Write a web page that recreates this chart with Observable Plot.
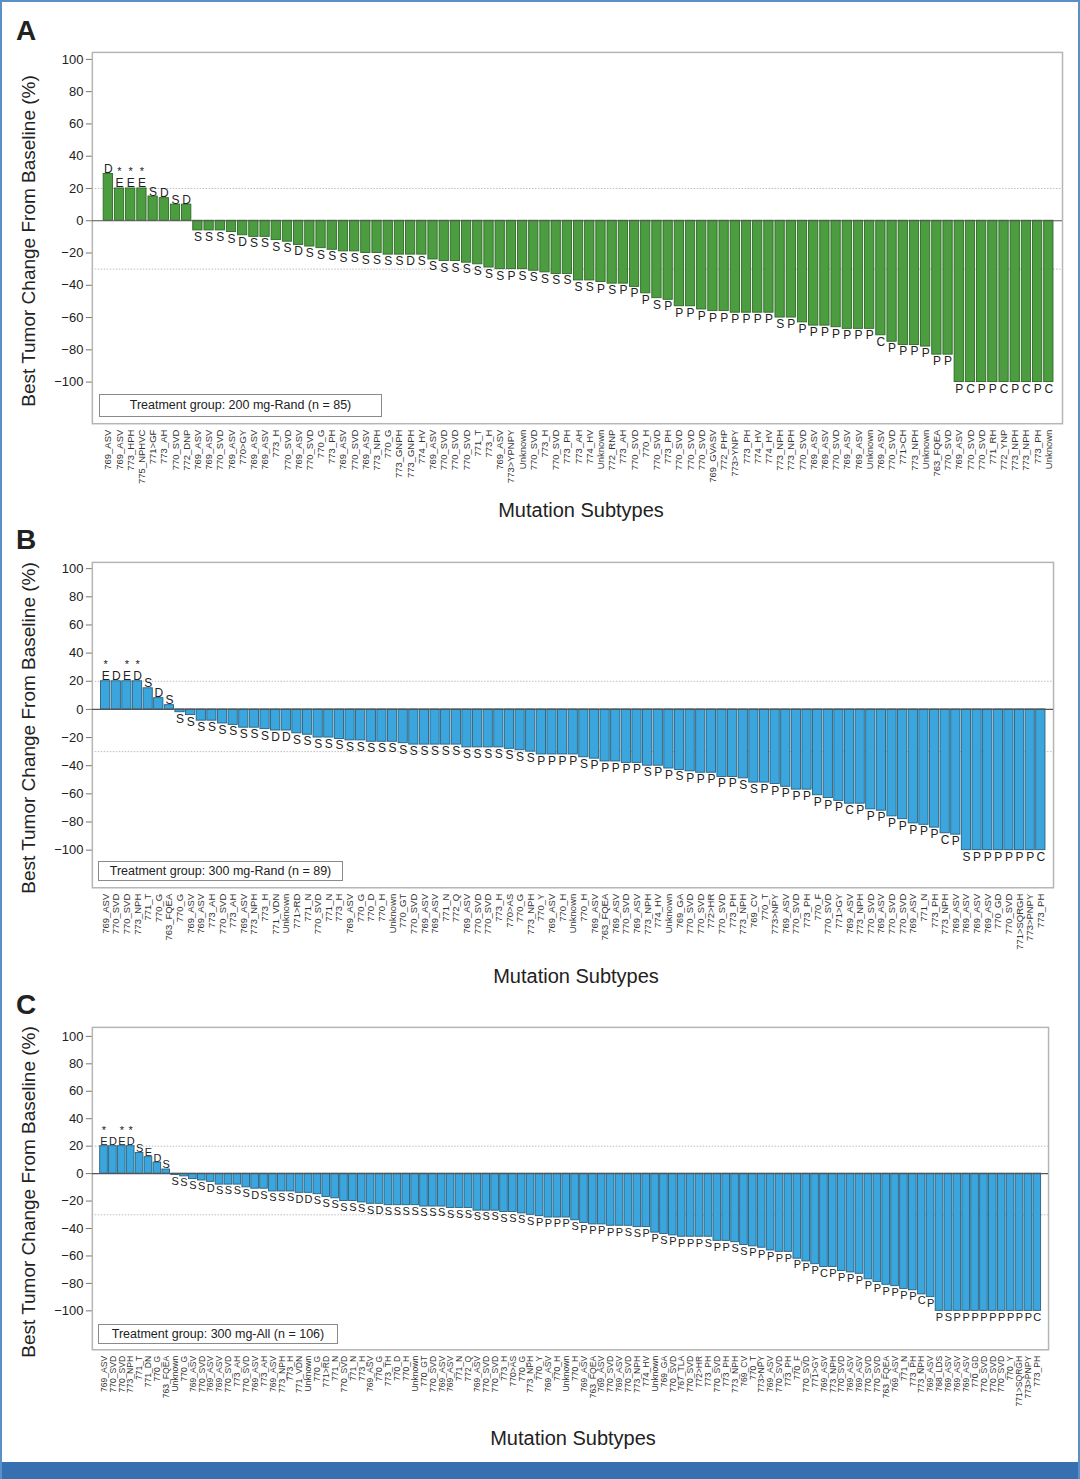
<!DOCTYPE html>
<html><head><meta charset="utf-8">
<script src="https://cdn.jsdelivr.net/npm/d3@7"></script>
<script src="https://cdn.jsdelivr.net/npm/@observablehq/plot@0.6"></script>
<style>
body{margin:0;background:#fff;}
#page{position:relative;width:1080px;height:1479px;overflow:hidden;font-family:"Liberation Sans",Arial,sans-serif;color:#222;box-sizing:border-box;border-top:2px solid #5b8fc7;border-left:2px solid #5b8fc7;border-right:2px solid #5b8fc7;}
.panel{position:absolute;left:-2px;}
.plet{position:absolute;font-weight:bold;font-size:28px;line-height:28px;}
.ytitle{position:absolute;width:420px;height:24px;line-height:24px;text-align:center;font-size:19px;transform:rotate(-90deg);white-space:nowrap;}
.xtitle{position:absolute;width:300px;height:24px;line-height:24px;text-align:center;font-size:20px;white-space:nowrap;}
.legbox{position:absolute;border:1px solid #8a8a8a;background:#fff;box-sizing:border-box;text-align:center;font-size:12.5px;white-space:nowrap;}
#bottomband{position:absolute;left:0;right:0;bottom:0;height:17px;background:#3670b0;}
</style>
</head><body><div id="page"></div>
<script>
// ---------------- Panel A: 200 mg-Rand (n = 85) ----------------
const labelsA = ["769_ASV","769_ASV","773_HPH","775_NPHVC","771>GF","773_AH","770_SVD","772_DNP","769_ASV","769_ASV","770_SVD","769_ASV","770>GY","769_ASV","769_ASV","773_H","770_SVD","769_ASV","770_SVD","770_G","773_PH","769_ASV","770_SVD","769_ASV","773_NPH","770_G","773_GNPH","773_GNPH","774_HV",
"769_ASV","770_SVD","770_SVD","770_SVD","771_T","773_H","769_ASV","773>YPNPY","Unknown","770_SVD","773_H","770_SVD","773_PH","773_AH","774_HV","Unknown","772_RNP","773_AH","770_SVD","770_H","770_SVD","773_PH","770_SVD","770_SVD","770_SVD","769_GVASV","772_PHP","773>YNPY",
"773_PH","774_HV","774_HV","773_NPH","773_NPH","770_SVD","769_ASV","769_ASV","770_SVD","769_ASV","769_ASV","Unknown","769_ASV","770_SVD","771>CH","773_NPH","Unknown","763_FQEA","770_SVD","769_ASV","770_SVD","770_SVD","771_RH","772_YNP","773_NPH","773_NPH","773_PH","Unknown"];
const valuesA = [29,20,20,20,15,14,10,10,-6,-6,-6,-7,-9,-10,-10,-12,-13,-15,-16,-17,-18,-19,-19,-20,-20,-21,-21,-21,-21,
-24,-25,-25,-26,-27,-29,-30,-30,-30,-31,-32,-33,-33,-37,-37,-38,-39,-39,-41,-45,-48,-49,-53,-53,-55,-56,-56,-57,
-57,-57,-57,-60,-60,-63,-65,-65,-66,-67,-67,-67,-71,-75,-77,-77,-78,-83,-83,-100,-100,-100,-100,-100,-100,-100,-100,-100];
const lettersA = ["D","E","E","E","S","D","S","D","S","S","S","S","D","S","S","S","S","D","S","S","S","S","S","S","S","S","S","D","S",
"S","S","S","S","S","S","S","P","S","S","S","S","S","S","S","P","S","P","P","P","S","P","P","P","P","P","P","P",
"P","P","P","S","P","P","P","P","P","P","P","P","C","P","P","P","P","P","P","P","C","P","P","C","P","C","P","C"];
const starsA = [2,3,4];

// ---------------- Panel B: 300 mg-Rand (n = 89) ----------------
const labelsB = ["769_ASV","770_SVD","770_SVD","773_NPH","771_T","770_G","763_FQEA","770_G","769_ASV","769_ASV","773_AH","770_SVD","773_AH","769_ASV","773_NPH","773_H","771_VDN","Unknown","771>RD","771_N","770_SVD","771_N","773_H","769_ASV","770_G","770_D","770_H","Unknown","770_GT","770_SVD",
"769_ASV","769_ASV","771_N","772_Q","769_ASV","770_SVD","770_SVD","773_H","770>AS","770_G","773_NPH","770_Y","769_ASV","770_H","Unknown","770_H","769_ASV","763_FQEA","769_ASV","770_SVD","769_ASV","773_NPH","774_HV","Unknown","769_GA","770_SVD","770_SVD","772>HR","770_SVD","773_PH","773_NPH",
"769_CV","770_T","773>NPY","769_ASV","770_SVD","773_PH","770_F","770_SVD","771>GY","769_ASV","773_NPH","770_SVD","769_ASV","770_SVD","770_SVD","769_ASV","771_N","773_PH","773_NPH","769_ASV","769_ASV","769_ASV","769_ASV","770_GD","770_SVD","771>SQRGH","773>PNPY","773_PH"];
const valuesB = [20,20,20,20,15,8,3,-2,-4,-8,-8,-10,-11,-13,-13,-14,-15,-15,-17,-18,-20,-20,-21,-22,-22,-23,-23,-23,-24,-25,
-25,-25,-25,-25,-27,-27,-27,-27,-28,-29,-30,-32,-32,-32,-32,-34,-35,-37,-37,-38,-38,-40,-40,-42,-43,-44,-45,-45,-48,-48,-49,
-52,-52,-53,-55,-57,-57,-61,-63,-65,-67,-67,-71,-72,-76,-78,-81,-82,-84,-88,-89,-100,-100,-100,-100,-100,-100,-100,-100];
const lettersB = ["E","D","E","D","S","D","S","S","S","S","S","S","S","S","S","S","D","D","S","S","S","S","S","S","S","S","S","S","S","S",
"S","S","S","S","S","S","S","S","S","S","S","P","P","P","P","S","P","P","P","P","P","S","P","P","S","P","P","P","P","P","S",
"S","P","P","P","P","P","P","P","P","C","P","P","P","P","P","P","P","P","C","P","S","P","P","P","P","P","P","C"];
const starsB = [1,3,4];

// ---------------- Panel C: 300 mg-All (n = 106) ----------------
const labelsC = ["769_ASV","770_SVD","770_SVD","773_NPH","771_T","771_DN","770_G","763_FQEA","Unknown","770_G","769_ASV","770_SVD","769_ASV","769_ASV","770_SVD","773_AH","770_SVD","769_ASV","773_AH","769_ASV","773_NPH","773_H","771_VDN","Unknown","770_G","771>RD","771_N","770_SVD","771_N","773_H","769_ASV","770_G","773_TH","770_D","770_H","Unknown","770_GT",
"770_SVD","769_ASV","769_ASV","771_N","772_Q","769_ASV","770_SVD","770_SVD","773_H","770>AS","770_G","773_NPH","770_Y","769_ASV","770_H","Unknown","770_H","769_ASV","763_FQEA","769_ASV","770_SVD","769_ASV","770_SVD","773_NPH","774_HV","Unknown","769_GA","770_SVD","767_TLA","770_SVD","772>HR","773_PH","770_SVD","773_PH","773_NPH",
"769_CV","770_T","773>NPY","769_ASV","770_SVD","773_PH","770_F","770_SVD","771>GY","769_ASV","773_NPH","770_SVD","769_ASV","769_ASV","770_SVD","770_SVD","763_FQEA","769_ASV","771_N","773_PH","773_NPH","769_ASV","768_LDS","769_ASV","769_ASV","769_ASV","770_GD","770_SVD","770_SVD","770_SVD","770_Y","771>SQRGH","773>PNPY","773_PH"];
const valuesC = [20,20,20,20,15,12,8,3,-1,-2,-4,-5,-6,-8,-8,-8,-10,-11,-11,-13,-13,-13,-14,-14,-15,-17,-18,-20,-20,-21,-22,-22,-23,-23,-23,-23,-24,
-24,-24,-25,-25,-25,-27,-27,-27,-28,-28,-29,-30,-31,-32,-32,-32,-34,-36,-37,-37,-38,-38,-38,-39,-39,-43,-44,-45,-46,-46,-46,-46,-49,-49,-50,
-52,-53,-54,-56,-57,-57,-62,-64,-66,-68,-68,-71,-72,-73,-77,-79,-81,-82,-84,-85,-88,-90,-100,-100,-100,-100,-100,-100,-100,-100,-100,-100,-100,-100];
const lettersC = ["E","D","E","D","S","E","D","S","S","S","S","S","D","S","S","S","S","D","S","S","S","S","D","D","S","S","S","S","S","S","S","D","S","S","S","S","S",
"S","S","S","S","S","S","S","S","S","S","S","S","P","P","P","P","S","P","P","P","P","P","S","S","P","P","S","P","P","P","P","S","P","P","S",
"S","P","P","P","P","P","P","P","P","C","P","P","P","P","P","P","P","P","P","P","C","P","P","S","P","P","P","P","P","P","P","P","P","C"];
const starsC = [1,3,4];

const yTicks = [-100,-80,-60,-40,-20,0,20,40,60,80,100];
const page = document.getElementById("page");

function addDiv(cls, text, css) {
  const d = document.createElement("div");
  d.className = cls; d.textContent = text;
  Object.assign(d.style, css);
  page.appendChild(d);
  return d;
}

function panel(o) {
  const n = o.values.length;
  const data = o.values.map((v, i) => ({i, v, lab: o.labels[i], let: o.letters[i], star: o.stars.includes(i + 1)}));
  const chart = Plot.plot({
    width: 1080, height: o.H,
    marginLeft: 92, marginRight: o.mr, marginTop: o.mt, marginBottom: o.mb,
    style: {fontFamily: "'Liberation Sans', Arial, sans-serif", background: "transparent", color: "#222"},
    x: {type: "band", domain: d3.range(n), range: o.xRange, paddingInner: o.pad, paddingOuter: o.pad / 2, round: false, axis: null},
    y: {domain: [-100, 100], range: o.yRange, axis: null},
    marks: [
      Plot.frame({stroke: "#b5b5b5", strokeWidth: 1.5}),
      Plot.ruleY([20, -30], {stroke: "#bdbdbd", strokeDasharray: "1.5,1.5", strokeWidth: 1}),
      Plot.barY(data, {x: "i", y: "v", fill: o.fill, stroke: o.stroke, strokeWidth: 0.9}),
      Plot.ruleY([0], {stroke: "#555", strokeWidth: 1.2}),
      Plot.axisY({anchor: "left", ticks: yTicks, tickSize: 6, tickPadding: 3, fontSize: 13, label: null, stroke: "#777"}),
      Plot.text(data, {x: "i", text: "lab", frameAnchor: "bottom", rotate: -90, textAnchor: "end", lineAnchor: "middle", dy: 6, fontSize: o.labelSize, fill: "#333"}),
      Plot.text(data.filter(d => d.v < 0), {x: "i", y: "v", text: "let", lineAnchor: "top", dy: 2, fontSize: o.letterSize, fill: "#222"}),
      Plot.text(data.filter(d => d.v >= 0), {x: "i", y: "v", text: "let", lineAnchor: "bottom", dy: -1, fontSize: o.letterSize, fill: "#222"}),
      Plot.text(data.filter(d => d.star), {x: "i", y: "v", text: () => "*", lineAnchor: "bottom", dy: -(o.letterSize + 1), fontSize: 11, fill: "#222"})
    ]
  });
  const wrap = document.createElement("div");
  wrap.className = "panel";
  wrap.style.top = (o.top - 2) + "px";
  wrap.appendChild(chart);
  page.appendChild(wrap);
}

panel({labels: labelsA, values: valuesA, letters: lettersA, stars: starsA, top: 0, H: 500, mt: 52, mb: 76, mr: 16,
  yRange: [382.3, 59], xRange: [102.4, 1055.9], pad: 0.17, fill: "#4c9c40", stroke: "#2e6a27", labelSize: 9.5, letterSize: 12});
panel({labels: labelsB, values: valuesB, letters: lettersB, stars: starsB, top: 500, H: 465, mt: 62, mb: 77, mr: 25,
  yRange: [350.3, 68.3], xRange: [100, 1047.6], pad: 0.13, fill: "#3aa6dd", stroke: "#28607f", labelSize: 9.5, letterSize: 12});
panel({labels: labelsC, values: valuesC, letters: lettersC, stars: starsC, top: 965, H: 497, mt: 62, mb: 112, mr: 30,
  yRange: [346, 71], xRange: [99.25, 1043.15], pad: 0.14, fill: "#3aa6dd", stroke: "#28607f", labelSize: 8.6, letterSize: 11});

// panel letters
addDiv("plet", "A", {left: "14px", top: "15px"});
addDiv("plet", "B", {left: "14px", top: "524px"});
addDiv("plet", "C", {left: "14px", top: "989px"});
// y titles
const yt = "Best Tumor Change From Baseline (%)";
addDiv("ytitle", yt, {left: (27 - 210) + "px", top: (239 - 12) + "px"});
addDiv("ytitle", yt, {left: (27 - 210) + "px", top: (726 - 12) + "px"});
addDiv("ytitle", yt, {left: (27 - 210) + "px", top: (1190 - 12) + "px"});
// x titles
addDiv("xtitle", "Mutation Subtypes", {left: (579 - 150) + "px", top: (508 - 12) + "px"});
addDiv("xtitle", "Mutation Subtypes", {left: (574 - 150) + "px", top: (974 - 12) + "px"});
addDiv("xtitle", "Mutation Subtypes", {left: (571 - 150) + "px", top: (1436 - 12) + "px"});
// legend boxes
addDiv("legbox", "Treatment group: 200 mg-Rand (n = 85)", {left: "97px", top: "392px", width: "283px", height: "23px", lineHeight: "21px"});
addDiv("legbox", "Treatment group: 300 mg-Rand (n = 89)", {left: "96px", top: "859px", width: "245px", height: "20px", lineHeight: "18px"});
addDiv("legbox", "Treatment group: 300 mg-All (n = 106)", {left: "96px", top: "1322px", width: "240px", height: "20px", lineHeight: "18px"});
const band = document.createElement("div"); band.id = "bottomband"; page.appendChild(band);
</script>
</body></html>
